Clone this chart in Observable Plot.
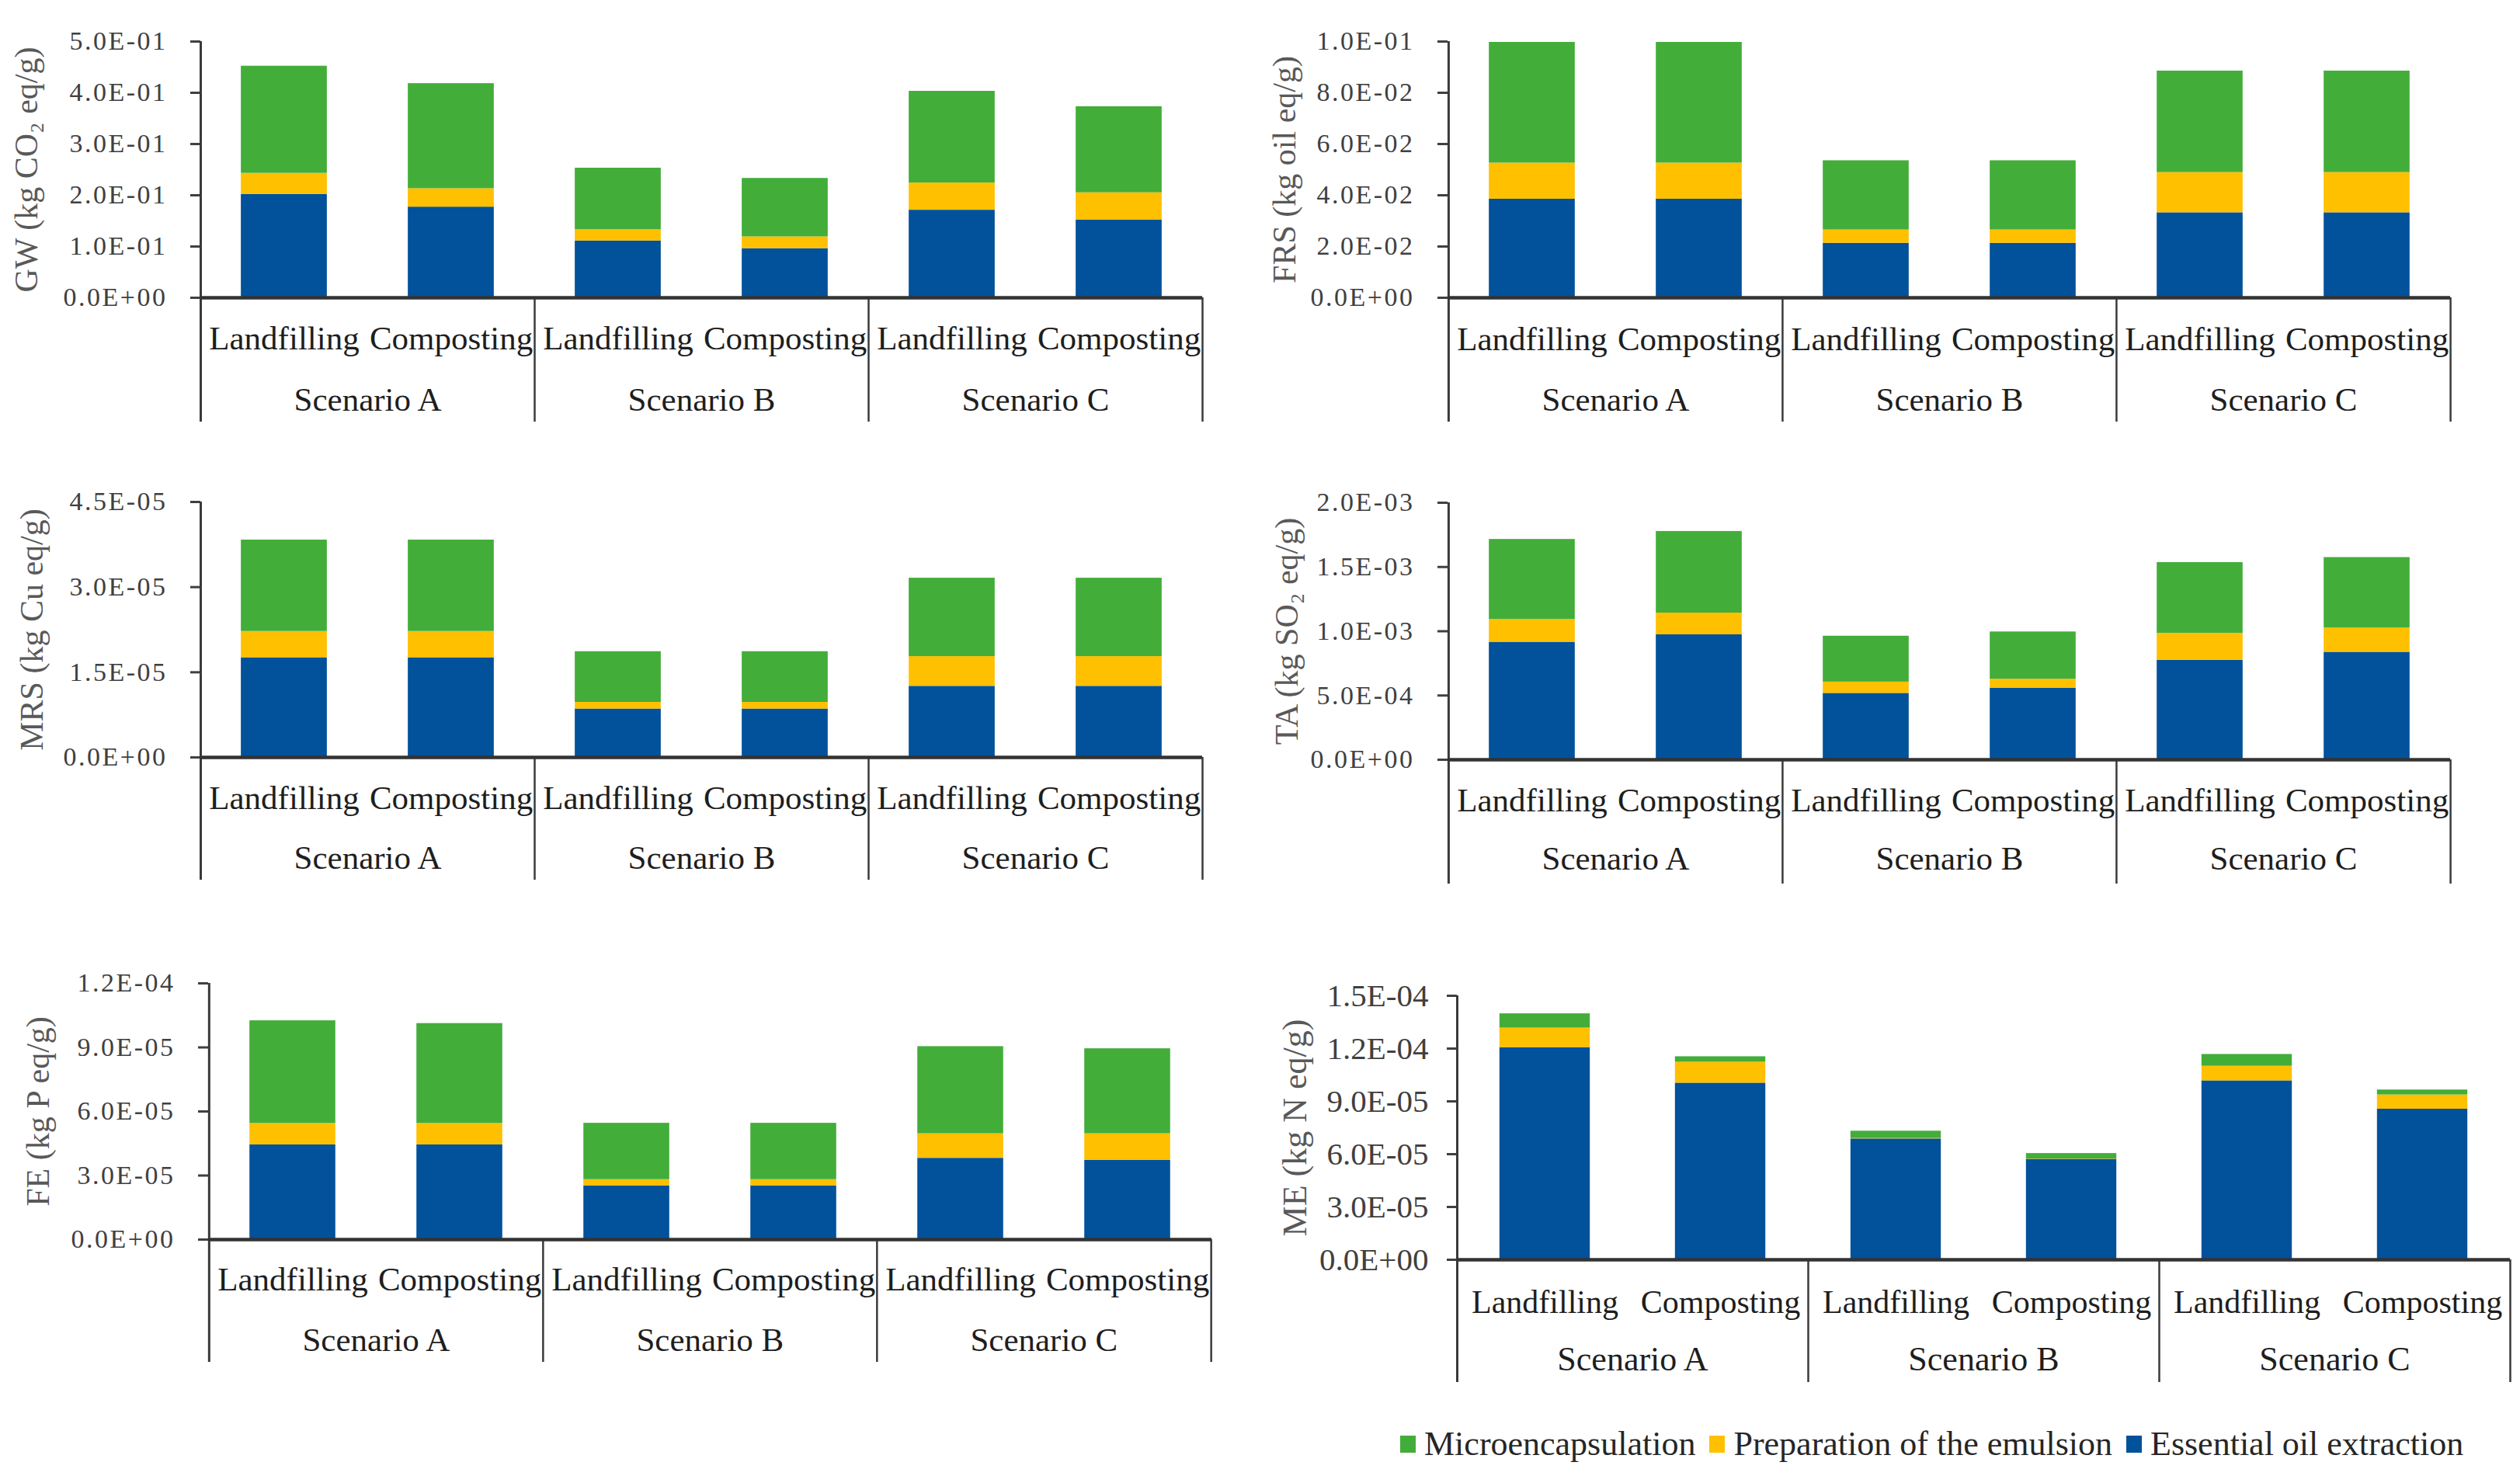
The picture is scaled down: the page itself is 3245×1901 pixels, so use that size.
<!DOCTYPE html>
<html>
<head>
<meta charset="utf-8">
<script src="https://cdn.jsdelivr.net/npm/d3@7"></script>
<script src="https://cdn.jsdelivr.net/npm/@observablehq/plot@0.6"></script>
<style>
  html, body { margin: 0; padding: 0; background: #fff; }
  body { width: 3245px; height: 1901px; position: relative; overflow: hidden;
         font-family: "Liberation Serif", "Times New Roman", serif; }
  .panel { position: absolute; }
  .spaced g[aria-label="y-axis tick label"] text { letter-spacing: 2.5px; }
  #legend { position: absolute; display: flex; align-items: center; font-size: 44px; color: #262626; white-space: nowrap; }
  #legend .item { display: flex; align-items: center; margin-right: 18px; }
  #legend .sw { width: 20px; height: 22px; margin-right: 11px; }
</style>
</head>
<body>
<script>
// ---------- data ----------
const scenarios = ["Scenario A", "Scenario B", "Scenario C"];
const disposals = ["Landfilling", "Composting"];
const stages = ["Essential oil extraction", "Preparation of the emulsion", "Microencapsulation"];
const stageColors = ["#02519b", "#ffc000", "#43ad3a"];
const legendOrder = ["Microencapsulation", "Preparation of the emulsion", "Essential oil extraction"];

// order of bars: A-Landfilling, A-Composting, B-Landfilling, B-Composting, C-Landfilling, C-Composting
const gwExtraction = [0.202, 0.177, 0.111, 0.096, 0.171, 0.152];
const gwEmulsion   = [0.041, 0.036, 0.022, 0.023, 0.053, 0.053];
const gwMicro      = [0.209, 0.205, 0.120, 0.114, 0.179, 0.168];
const gwTicks = [0, 0.1, 0.2, 0.3, 0.4, 0.5];

const frsExtraction = [0.0385, 0.0385, 0.0213, 0.0213, 0.0332, 0.0332];
const frsEmulsion   = [0.0141, 0.0141, 0.0052, 0.0052, 0.0157, 0.0157];
const frsMicro      = [0.0471, 0.0471, 0.0270, 0.0270, 0.0396, 0.0396];
const frsTicks = [0, 0.02, 0.04, 0.06, 0.08, 0.1];

const mrsExtraction = [1.757e-5, 1.757e-5, 0.854e-5, 0.854e-5, 1.254e-5, 1.254e-5];
const mrsEmulsion   = [0.463e-5, 0.463e-5, 0.117e-5, 0.117e-5, 0.523e-5, 0.523e-5];
const mrsMicro      = [1.610e-5, 1.610e-5, 0.893e-5, 0.893e-5, 1.381e-5, 1.381e-5];
const mrsTicks = [0, 1.5e-5, 3.0e-5, 4.5e-5];

const taExtraction = [0.915e-3, 0.973e-3, 0.517e-3, 0.556e-3, 0.774e-3, 0.837e-3];
const taEmulsion   = [0.177e-3, 0.169e-3, 0.088e-3, 0.071e-3, 0.210e-3, 0.190e-3];
const taMicro      = [0.623e-3, 0.635e-3, 0.357e-3, 0.368e-3, 0.551e-3, 0.547e-3];
const taTicks = [0, 5e-4, 1.0e-3, 1.5e-3, 2.0e-3];

const feExtraction = [0.444e-4, 0.444e-4, 0.251e-4, 0.251e-4, 0.381e-4, 0.372e-4];
const feEmulsion   = [0.100e-4, 0.100e-4, 0.030e-4, 0.030e-4, 0.115e-4, 0.124e-4];
const feMicro      = [0.481e-4, 0.468e-4, 0.264e-4, 0.264e-4, 0.408e-4, 0.398e-4];
const feTicks = [0, 3e-5, 6e-5, 9e-5, 1.2e-4];

const meExtraction = [1.206e-4, 1.004e-4, 0.687e-4, 0.571e-4, 1.017e-4, 0.856e-4];
const meEmulsion   = [0.111e-4, 0.119e-4, 0.003e-4, 0.002e-4, 0.083e-4, 0.081e-4];
const meMicro      = [0.081e-4, 0.031e-4, 0.041e-4, 0.031e-4, 0.067e-4, 0.028e-4];
const meTicks = [0, 3e-5, 6e-5, 9e-5, 1.2e-4, 1.5e-4];

// ---------- helpers ----------
const keys = scenarios.flatMap(s => disposals.map(d => `${s}|${d}`));
function rowsOf(series) {
  const rows = [];
  keys.forEach((k, i) => series.forEach((vals, j) => rows.push({key: k, stage: stages[j], value: vals[i]})));
  return rows;
}
function sci(v) {
  if (v === 0) return "0.0E+00";
  const [m, e] = v.toExponential(1).split("e");
  const n = +e;
  return `${m}E${n < 0 ? "-" : "+"}${String(Math.abs(n)).padStart(2, "0")}`;
}

// ---------- panels (layout / style) ----------
const panels = [
  {title: "GW (kg CO₂ eq/g)", series: [gwExtraction, gwEmulsion, gwMicro], ticks: gwTicks,
   left: 0, top: 0, width: 1600, height: 560, ml: 258, mr: 52, mt: 53, mb: 177,
   tickFont: 34, tickPad: 30, spaced: true, catFont: 43, scenFont: 43, titleFont: 42, titleDx: -224, catDy: 66, scenDy: 145, sepLen: 160},
  {title: "FRS (kg oil eq/g)", series: [frsExtraction, frsEmulsion, frsMicro], ticks: frsTicks,
   left: 1600, top: 0, width: 1645, height: 560, ml: 264, mr: 90, mt: 53, mb: 177,
   tickFont: 34, tickPad: 30, spaced: true, catFont: 43, scenFont: 43, titleFont: 42, titleDx: -210, catDy: 67, scenDy: 145, sepLen: 160},
  {title: "MRS (kg Cu eq/g)", series: [mrsExtraction, mrsEmulsion, mrsMicro], ticks: mrsTicks,
   left: 0, top: 580, width: 1600, height: 580, ml: 258, mr: 52, mt: 66, mb: 185,
   tickFont: 34, tickPad: 30, spaced: true, catFont: 43, scenFont: 43, titleFont: 42, titleDx: -217, catDy: 66, scenDy: 143, sepLen: 158},
  {title: "TA (kg SO₂ eq/g)", series: [taExtraction, taEmulsion, taMicro], ticks: taTicks,
   left: 1600, top: 580, width: 1645, height: 580, ml: 264, mr: 90, mt: 67, mb: 182,
   tickFont: 34, tickPad: 30, spaced: true, catFont: 43, scenFont: 43, titleFont: 42, titleDx: -207, catDy: 66, scenDy: 141, sepLen: 160},
  {title: "FE (kg P eq/g)", series: [feExtraction, feEmulsion, feMicro], ticks: feTicks,
   left: 0, top: 1200, width: 1600, height: 580, ml: 268, mr: 40, mt: 66, mb: 184,
   tickFont: 34, tickPad: 30, spaced: true, catFont: 43, scenFont: 43, titleFont: 42, titleDx: -219, catDy: 65, scenDy: 143, sepLen: 158},
  {title: "ME (kg N eq/g)", series: [meExtraction, meEmulsion, meMicro], ticks: meTicks,
   left: 1600, top: 1200, width: 1645, height: 620, ml: 276, mr: 13, mt: 82, mb: 198,
   tickFont: 41, tickPad: 24, spaced: false, catFont: 42, scenFont: 44, titleFont: 44, titleDx: -209, catDy: 68, scenDy: 142, sepLen: 158}
];

const axisColor = "#404040";
const lineColor = "#3a3a3a";
const textColor = "#1e1e1e";

for (const p of panels) {
  const plotW = p.width - p.ml - p.mr;
  const plotH = p.height - p.mt - p.mb;
  const bw = plotW / keys.length;
  const inset = bw * (1 - 0.515) / 2;
  const chart = Plot.plot({
    width: p.width, height: p.height,
    marginLeft: p.ml, marginRight: p.mr, marginTop: p.mt, marginBottom: p.mb,
    style: {fontFamily: "'Liberation Serif', 'Times New Roman', serif", background: "transparent", overflow: "visible"},
    x: {domain: keys, padding: 0, axis: null},
    y: {domain: [0, p.ticks[p.ticks.length - 1]], axis: null},
    color: {domain: stages, range: stageColors},
    marks: [
      Plot.barY(rowsOf(p.series), {x: "key", y: "value", fill: "stage", order: stages, insetLeft: inset, insetRight: inset}),
      Plot.axisY({ticks: p.ticks, tickFormat: sci, tickSize: 13, tickPadding: p.tickPad, fontSize: p.tickFont,
                  stroke: axisColor, strokeWidth: 3, fill: axisColor, label: null}),
      // y axis line + first separator
      Plot.ruleX([keys[0]], {dx: -bw / 2, insetBottom: -p.sepLen, stroke: lineColor, strokeWidth: 3}),
      // separators between scenarios and at the right end
      Plot.ruleX([keys[2], keys[4]], {dx: -bw / 2, insetTop: plotH, insetBottom: -p.sepLen, stroke: lineColor, strokeWidth: 2.5}),
      Plot.ruleX([keys[5]], {dx: bw / 2, insetTop: plotH, insetBottom: -p.sepLen, stroke: lineColor, strokeWidth: 2.5}),
      // baseline
      Plot.ruleY([0], {stroke: "#333", strokeWidth: 4.5}),
      // category labels
      Plot.text(keys, {x: d => d, text: d => d.split("|")[1], frameAnchor: "bottom", dy: p.catDy,
                       fontSize: p.catFont, fill: textColor}),
      // scenario labels
      Plot.text([keys[1], keys[3], keys[5]], {x: d => d, text: d => d.split("|")[0], frameAnchor: "bottom",
                       dx: -bw / 2, dy: p.scenDy, fontSize: p.scenFont, fill: textColor}),
      // y title
      Plot.text([p.title], {text: d => d, frameAnchor: "left", textAnchor: "middle", rotate: -90, dx: p.titleDx,
                            fontSize: p.titleFont, fill: "#595959"})
    ]
  });
  const div = document.createElement("div");
  div.className = "panel" + (p.spaced ? " spaced" : "");
  div.style.left = p.left + "px";
  div.style.top = p.top + "px";
  div.appendChild(chart);
  document.body.appendChild(div);
}

// ---------- legend ----------
const legend = document.createElement("div");
legend.id = "legend";
legend.style.left = "1803px";
legend.style.top = "1834px";
for (const name of legendOrder) {
  const item = document.createElement("div");
  item.className = "item";
  const sw = document.createElement("div");
  sw.className = "sw";
  sw.style.background = stageColors[stages.indexOf(name)];
  item.appendChild(sw);
  item.appendChild(document.createTextNode(name));
  legend.appendChild(item);
}
document.body.appendChild(legend);
</script>
</body>
</html>
